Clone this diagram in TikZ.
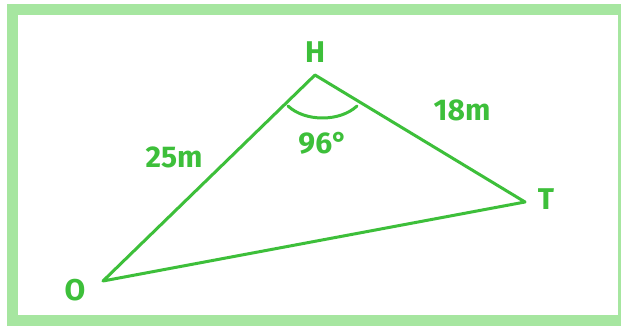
\documentclass[tikz,border=0pt]{standalone}
\usepackage{fontspec}
\setmainfont{Fira Sans}
\definecolor{frame}{HTML}{A6E6A0}
\definecolor{ink}{HTML}{3DBF3A}
\begin{document}
\begin{tikzpicture}[x=1pt,y=-1pt,
  lbl/.style={text=ink,font=\bfseries\fontsize{30}{30}\selectfont,inner sep=0pt},
  edge/.style={draw=ink,line width=3pt,line join=round,line cap=round}]
\useasboundingbox (0,0) rectangle (621,328);
\fill[white] (0,0) rectangle (621,328);
\draw[frame,line width=11pt] (12,10) rectangle (623,320.5);
\coordinate (H) at (315,75);
\coordinate (T) at (525,202);
\coordinate (O) at (103,281);
\draw[edge] (H) -- (T) -- (O) -- cycle;
\draw[ink,line width=3pt,line cap=round] (288,106) .. controls (305,122) and (340,122) .. (357,106);
\node[lbl] (hl) at (315,52) {H};
\node[lbl] (tl) at (546,199) {T};
\node[lbl] (ol) at (75,290) {O};
\node[lbl] (a) at (323,143) {96°};
\node[lbl] (b) at (462,110) {18m};
\node[lbl] (c) at (174,157) {25m};
\end{tikzpicture}
\end{document}
